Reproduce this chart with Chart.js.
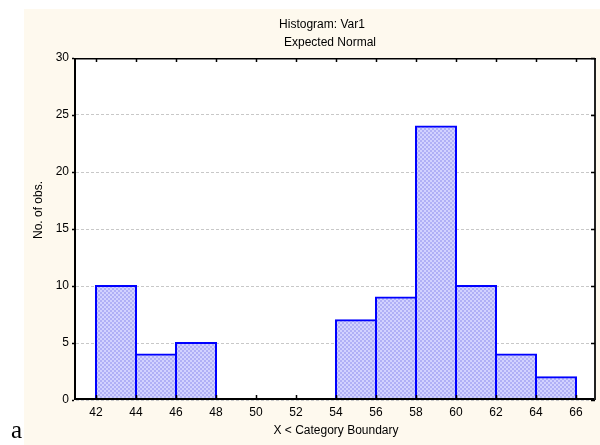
<!DOCTYPE html>
<html>
<head>
<meta charset="utf-8">
<script src="https://cdn.jsdelivr.net/npm/chart.js@4"></script>
<style>
  html, body { margin: 0; padding: 0; background: #ffffff; }
  #wrap { position: relative; width: 600px; height: 445px; overflow: hidden; }
  #chart { position: absolute; left: 0; top: 0; }
  #tag { position: absolute; left: 11px; top: 417px; font-family: 'Liberation Serif', 'Times New Roman', serif; font-size: 25px; color: #000; line-height: 1; }
</style>
</head>
<body>
<div id="wrap">
  <canvas id="chart" width="600" height="445"></canvas>
  <div id="tag">a</div>
</div>
<script>
// Histogram bins (lower boundaries, width 2) and observed counts
const binStarts = [42, 44, 46, 48, 50, 52, 54, 56, 58, 60, 62, 64];
const counts    = [10, 4, 5, 0, 0, 0, 7, 9, 24, 10, 4, 2];
const binWidth  = 2;

// Axis tick values
const xTickValues = [42, 44, 46, 48, 50, 52, 54, 56, 58, 60, 62, 64, 66];
const yTickValues = [0, 5, 10, 15, 20, 25, 30];

const titleText    = 'Histogram: Var1';
const subtitleText = 'Expected Normal';
const xTitleText   = 'X < Category Boundary';
const yTitleText   = 'No. of obs.';

const FONT = "'Liberation Sans', Arial, sans-serif";

// Dithered light-blue fill for the bars
function ditherFill() {
  const c = document.createElement('canvas');
  c.width = 4; c.height = 4;
  const g = c.getContext('2d');
  g.fillStyle = '#d2d2ff';
  g.fillRect(0, 0, 4, 4);
  g.fillStyle = '#b0b0f6';
  g.fillRect(0, 0, 2, 2);
  g.fillRect(2, 2, 2, 2);
  return g.createPattern(c, 'repeat');
}

const barData = binStarts.map((s, i) => ({ x: s + binWidth / 2, y: counts[i] }));

// Page background, plot frame, tick marks and headings
const framePlugin = {
  id: 'frame',
  beforeDraw(chart) {
    const { ctx, chartArea: a } = chart;
    ctx.save();
    ctx.fillStyle = '#fef9ee';
    ctx.fillRect(24, 9, 576, 436);
    ctx.fillStyle = '#ffffff';
    ctx.fillRect(a.left, a.top, a.right - a.left, a.bottom - a.top);
    ctx.restore();
  },
  afterDatasetsDraw(chart) {
    const { ctx, chartArea: a, scales } = chart;
    const xs = scales.x, ys = scales.y;
    ctx.save();
    ctx.strokeStyle = '#000000';
    // frame
    ctx.lineWidth = 2;
    ctx.beginPath();
    ctx.moveTo(a.left - 1, a.top); ctx.lineTo(a.left - 1, a.bottom);
    ctx.moveTo(a.left - 2, a.bottom - 1); ctx.lineTo(a.right, a.bottom - 1);
    ctx.stroke();
    ctx.strokeStyle = '#222222';
    ctx.beginPath();
    ctx.moveTo(a.right - 1, a.top); ctx.lineTo(a.right - 1, a.bottom);
    ctx.stroke();
    ctx.strokeStyle = '#000000';
    ctx.lineWidth = 1.5;
    ctx.beginPath();
    ctx.moveTo(a.left - 2, a.top + 0.75); ctx.lineTo(a.right, a.top + 0.75);
    ctx.stroke();
    // tick marks
    ctx.lineWidth = 1.5;
    ctx.beginPath();
    xTickValues.forEach(v => {
      const px = Math.round(xs.getPixelForValue(v)) + 0.5;
      ctx.moveTo(px, a.top); ctx.lineTo(px, a.top + 4);
      ctx.moveTo(px, a.bottom - 1); ctx.lineTo(px, a.bottom - 5);
    });
    yTickValues.forEach(v => {
      const py = Math.round(ys.getPixelForValue(v)) + 0.5;
      ctx.moveTo(a.left - 2, py); ctx.lineTo(a.left - 4, py);
      ctx.moveTo(a.right - 1, py); ctx.lineTo(a.right - 5, py);
    });
    ctx.stroke();
    ctx.restore();
  },
  afterDraw(chart) {
    const { ctx, chartArea: a } = chart;
    const cx = (a.left + a.right) / 2;
    ctx.save();
    ctx.fillStyle = '#000000';
    ctx.font = '12px ' + FONT;
    ctx.textAlign = 'center';
    ctx.textBaseline = 'alphabetic';
    ctx.fillText(titleText, cx - 14, 28);
    ctx.fillText(subtitleText, cx - 6, 46);
    ctx.translate(39, (a.top + a.bottom) / 2 - 19);
    ctx.rotate(-Math.PI / 2);
    ctx.textBaseline = 'middle';
    ctx.fillText(yTitleText, 0, 0);
    ctx.restore();
  }
};

new Chart(document.getElementById('chart'), {
  type: 'bar',
  data: {
    datasets: [{
      data: barData,
      backgroundColor: ditherFill(),
      borderColor: '#0000ff',
      borderWidth: 2,
      borderSkipped: false,
      inflateAmount: 1,
      barPercentage: 1,
      categoryPercentage: 1
    }]
  },
  options: {
    responsive: false,
    animation: false,
    layout: { padding: { left: 0, top: 58, right: 4, bottom: 0 } },
    plugins: {
      legend: { display: false },
      title: { display: false },
      tooltip: { enabled: false }
    },
    scales: {
      x: {
        type: 'linear',
        min: 41,
        max: 67,
        offset: false,
        afterFit(s) { s.height = 45; },
        afterBuildTicks(s) { s.ticks = xTickValues.map(v => ({ value: v })); },
        grid: { display: false, drawTicks: false },
        border: { display: false },
        ticks: {
          padding: 5,
          color: '#000000',
          font: { family: FONT, size: 12 },
          autoSkip: false,
          maxRotation: 0,
          callback: v => String(v)
        },
        title: {
          display: true,
          text: xTitleText,
          color: '#000000',
          font: { family: FONT, size: 12 },
          padding: { top: 0, bottom: 7 }
        }
      },
      y: {
        min: 0,
        max: 30,
        afterFit(s) { s.width = 76; },
        afterBuildTicks(s) { s.ticks = yTickValues.map(v => ({ value: v })); },
        grid: { display: true, color: '#c8c8c8', lineWidth: 1, drawTicks: false },
        border: { display: false, dash: [3, 2] },
        ticks: {
          padding: 7,
          color: '#000000',
          font: { family: FONT, size: 12 }
        }
      }
    }
  },
  plugins: [framePlugin]
});
</script>
</body>
</html>
